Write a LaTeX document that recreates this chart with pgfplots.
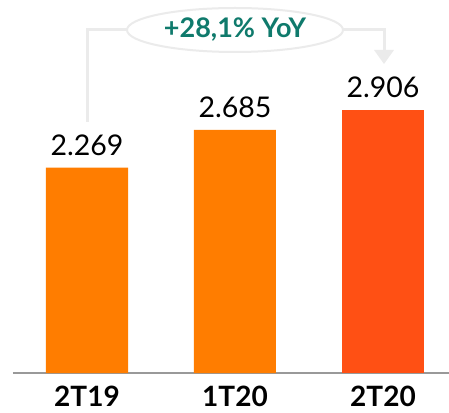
\documentclass[border=0pt]{standalone}
\usepackage{pgfplots}
\pgfplotsset{compat=1.18}
\usepackage{fontspec}
\setmainfont{Lato}
\definecolor{barA}{HTML}{FF7D00}
\definecolor{barB}{HTML}{FF5014}
\definecolor{teal}{HTML}{0F7A6C}
\definecolor{brk}{HTML}{EBEBEB}
\definecolor{axgray}{HTML}{999999}
\begin{document}
\begin{tikzpicture}[x=1pt,y=1pt]
\useasboundingbox (0,0) rectangle (449,412);
\begin{axis}[
  at={(13pt,39pt)}, anchor=south west,
  scale only axis, width=436pt, height=373pt,
  xmin=-0.5, xmax=2.446, ymin=0, ymax=4.12,
  axis x line=bottom, axis y line=none,
  axis line style={axgray, line width=1.5pt, -},
  xtick={0,1,2}, xticklabels={2T19,1T20,2T20},
  major tick length=0pt,
  xticklabel style={font=\fontsize{28}{28}\selectfont\bfseries, text=black, inner sep=0pt, yshift=-12.5pt},
  ytick=\empty,
  ybar, bar width=82pt, bar shift=0pt,
  nodes near coords,
  nodes near coords style={font=\fontsize{28.5}{28.5}\selectfont, text=black, inner sep=0pt, yshift=12pt},
  point meta=explicit symbolic,
  clip=false,
]
\addplot[fill=barA, draw=none] coordinates {(0,2.269) [2.269] (1,2.685) [2.685]};
\addplot[fill=barB, draw=none] coordinates {(2,2.906) [2.906]};
\end{axis}
\draw[brk, line width=3pt] (87,290) -- (87,382) -- (130,382);
\draw[brk, line width=3pt] (340,382) -- (384,382) -- (384,360);
\fill[brk] (374,362) -- (394,362) -- (384,348) -- cycle;
\draw[brk, line width=2pt, fill=white] (235,382) ellipse [x radius=108, y radius=22];
\node[text=teal, font=\fontsize{27}{27}\selectfont\bfseries] at (235,382) {+28,1\% YoY};
\end{tikzpicture}
\end{document}
